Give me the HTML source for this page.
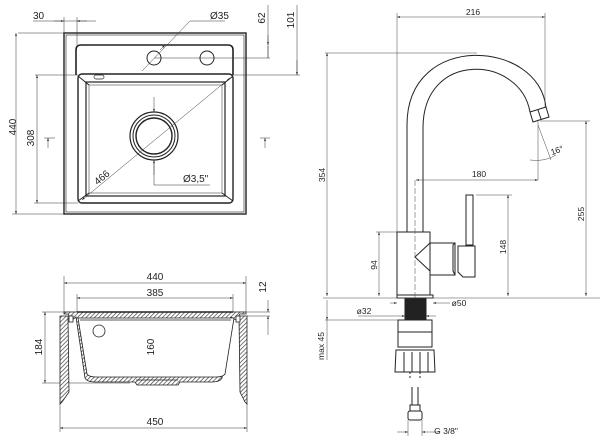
<!DOCTYPE html>
<html><head><meta charset="utf-8"><style>
html,body{margin:0;padding:0;background:#fff;}
svg{display:block;font-family:"Liberation Sans",sans-serif;}
</style></head><body>
<svg width="600" height="447" viewBox="0 0 600 447" xmlns="http://www.w3.org/2000/svg">
<defs>
<pattern id="h" width="3" height="3" patternUnits="userSpaceOnUse" patternTransform="rotate(45)">
<rect width="3" height="3" fill="#fff"/><line x1="0" y1="0" x2="0" y2="3" stroke="#333" stroke-width="1.3"/></pattern>
<marker id="a" viewBox="0 0 10 10" refX="10" refY="5" markerWidth="6" markerHeight="6" orient="auto-start-reverse"><path d="M0,2 L10,5 L0,8z" fill="#222"/></marker>
</defs>
<g fill="none" stroke="#222" stroke-width="1">
<!-- TOP VIEW -->
<rect x="64" y="33" width="182" height="181" stroke-width="1.4"/>
<rect x="66" y="35" width="178" height="177" stroke-width="0.6"/>
<path d="M76,75 V50 Q76,45 81,45 H228 Q233,45 233,50 V75" stroke-width="1.6"/>
<rect x="78" y="74" width="155" height="129" rx="4" stroke-width="1.4"/>
<rect x="86" y="82" width="139" height="114" stroke-width="1.2"/>
<rect x="89" y="85" width="133" height="108" stroke-width="0.5"/>
<line x1="78" y1="76" x2="89" y2="85"/><line x1="233" y1="76" x2="222" y2="85"/>
<line x1="78" y1="201" x2="89" y2="193"/><line x1="233" y1="201" x2="222" y2="193"/>
<circle cx="154" cy="58" r="7"/><circle cx="207" cy="58" r="7"/>
<circle cx="154" cy="136" r="24" stroke-width="1.2"/><circle cx="154" cy="136" r="21"/><circle cx="154" cy="136" r="18" stroke-width="1.4"/>
<rect x="94" y="75" width="10" height="4" rx="2" stroke-width="0.7"/>
</g>
<g fill="none" stroke="#333" stroke-width="0.5">
<line x1="33" y1="21" x2="96" y2="21"/><line x1="64" y1="17" x2="64" y2="33"/><line x1="77" y1="17" x2="77" y2="45"/>
<line x1="54" y1="21" x2="64" y2="21" marker-end="url(#a)"/><line x1="87" y1="21" x2="77" y2="21" marker-end="url(#a)"/>
<line x1="190" y1="21" x2="225" y2="21"/><line x1="190" y1="21" x2="142" y2="71"/>
<line x1="160" y1="50" x2="165" y2="45" marker-end="url(#a)"/>
<line x1="18" y1="33" x2="64" y2="33"/><line x1="16" y1="33" x2="16" y2="214" marker-start="url(#a)" marker-end="url(#a)"/><line x1="12" y1="214" x2="64" y2="214"/>
<line x1="35" y1="75" x2="78" y2="75"/><line x1="37" y1="75" x2="37" y2="203" marker-start="url(#a)" marker-end="url(#a)"/><line x1="34" y1="203" x2="78" y2="203"/>
<line x1="154" y1="97" x2="154" y2="112" marker-end="url(#a)"/><line x1="154" y1="175" x2="154" y2="160" marker-end="url(#a)"/>
<line x1="154" y1="160" x2="154" y2="185"/><line x1="154" y1="185" x2="210" y2="185"/>
<line x1="82" y1="200" x2="230" y2="78" marker-start="url(#a)" marker-end="url(#a)"/>
<line x1="154" y1="58" x2="270" y2="58"/><line x1="233" y1="75" x2="300" y2="75"/>
<line x1="268" y1="5" x2="268" y2="58" /><line x1="268" y1="35" x2="268" y2="45" marker-end="url(#a)"/><line x1="268" y1="58" x2="268" y2="46"/>
<line x1="297" y1="5" x2="297" y2="75"/><line x1="297" y1="60" x2="297" y2="75" marker-end="url(#a)"/>
<line x1="44" y1="138" x2="55" y2="138"/><line x1="48" y1="138" x2="48" y2="148" marker-start="url(#a)"/>
<line x1="260" y1="138" x2="270" y2="138"/><line x1="265" y1="138" x2="265" y2="148" marker-start="url(#a)"/>
</g>
<g font-size="10" fill="#222">
<text x="33" y="19">30</text><text x="210" y="19">Ø35</text>
<text x="183" y="182">Ø3,5"</text>
<text transform="translate(16,127) rotate(-90)" text-anchor="middle">440</text>
<text transform="translate(34,138) rotate(-90)" text-anchor="middle">308</text>
<text transform="translate(265,18) rotate(-90)" text-anchor="middle">62</text>
<text transform="translate(294,20) rotate(-90)" text-anchor="middle">101</text>
<text transform="translate(104,180) rotate(-40)" text-anchor="middle">466</text>
</g>
<!-- SECTION VIEW -->
<g fill="none" stroke="#333" stroke-width="0.5">
<line x1="64" y1="276" x2="64" y2="312"/><line x1="246" y1="276" x2="246" y2="312"/>
<line x1="64" y1="283" x2="246" y2="283" marker-start="url(#a)" marker-end="url(#a)"/>
<line x1="77" y1="294" x2="77" y2="312"/><line x1="233" y1="294" x2="233" y2="312"/>
<line x1="77" y1="298" x2="233" y2="298" marker-start="url(#a)" marker-end="url(#a)"/>
<line x1="42" y1="312" x2="270" y2="312"/><line x1="42" y1="383" x2="130" y2="383"/>
<line x1="45" y1="312" x2="45" y2="383" marker-start="url(#a)" marker-end="url(#a)"/>
<line x1="157" y1="315" x2="157" y2="380" marker-start="url(#a)" marker-end="url(#a)"/>
<line x1="246" y1="316" x2="270" y2="316"/>
<line x1="268" y1="300" x2="268" y2="312" marker-end="url(#a)"/><line x1="268" y1="335" x2="268" y2="316" marker-end="url(#a)"/>
<line x1="60" y1="404" x2="60" y2="432"/><line x1="247" y1="404" x2="247" y2="432"/>
<line x1="60" y1="428" x2="247" y2="428" marker-start="url(#a)" marker-end="url(#a)"/>
</g>
<g stroke="#222" stroke-width="0.8">
<path d="M64,312 H246 V314 H240 L236,320 L231,317 L222,378 Q220,382 212,382 H180 L178,385 H137 L135,382 H95 Q87,382 85,378 L76,317 L72,320 L68,314 H64z" fill="url(#h)"/>
<path d="M78,318 L87,374 Q89,377 96,377 H216 Q223,377 225,374 L234,318z" fill="#fff"/>
<line x1="77" y1="312" x2="233" y2="312" stroke-width="1.6"/>
<line x1="80" y1="320" x2="231" y2="320"/>
<line x1="136" y1="380" x2="178" y2="380"/>
<path d="M60,316 L68,316 L69,392 L62,402 L60,404z" fill="url(#h)"/>
<path d="M239,316 L247,316 L247,404 L245,402 L240,392z" fill="url(#h)"/>
<rect x="69" y="316" width="4" height="6" fill="#fff"/><rect x="236" y="316" width="4" height="6" fill="#fff"/>
<circle cx="99" cy="331" r="6" fill="#fff"/>
</g>
<g font-size="10" fill="#222" text-anchor="middle">
<text x="155" y="280">440</text><text x="155" y="296">385</text><text x="155" y="425">450</text>
<text transform="translate(42,347) rotate(-90)">184</text>
<text transform="translate(154,347) rotate(-90)">160</text>
<text transform="translate(266,287) rotate(-90)">12</text>
</g>
<!-- TAP -->
<g fill="none" stroke="#222" stroke-width="1">
<path d="M407,232 V125 C407,30 540,40 546,108"/>
<path d="M423,232 V128 C423,50 520,55 530,112"/>
<path d="M530,112 L546,107 L549,117 L533,122z" fill="#fff"/>
<line x1="538" y1="110" x2="541" y2="119"/>
<rect x="397" y="232" width="33" height="63"/>
<path d="M430,243 L415,257 L430,271"/>
<path d="M430,243 H455 V275 H430"/>
<path d="M455,243 L453,245 V271 L455,275"/>
<path d="M458,246 H475 V277 H463 L458,272z"/>
<rect x="466" y="195" width="7" height="50"/>
<rect x="397" y="295" width="36" height="3"/>
<rect x="405" y="298" width="21" height="22" fill="#222"/>
<rect x="398" y="320" width="34" height="12"/>
<rect x="398" y="332" width="34" height="15"/>
<path d="M396,350 H434 L435,372 H395z"/>
<line x1="404" y1="352" x2="404" y2="372"/><line x1="412" y1="352" x2="412" y2="372"/><line x1="420" y1="352" x2="420" y2="372"/><line x1="428" y1="352" x2="428" y2="372"/>
<line x1="410" y1="372" x2="410" y2="380" stroke-dasharray="2,2"/><line x1="420" y1="372" x2="420" y2="380" stroke-dasharray="2,2"/>
<line x1="412" y1="387" x2="412" y2="405"/><line x1="418" y1="387" x2="418" y2="405"/>
<rect x="410" y="405" width="10" height="6"/><rect x="408" y="411" width="14" height="9" rx="2"/>
</g>
<g fill="none" stroke="#444" stroke-width="0.5">
<line x1="397" y1="13" x2="397" y2="232"/><line x1="545" y1="13" x2="545" y2="107"/>
<line x1="397" y1="17" x2="545" y2="17" marker-start="url(#a)" marker-end="url(#a)"/>
<line x1="325" y1="53" x2="477" y2="53"/><line x1="323" y1="298" x2="600" y2="298"/>
<line x1="327" y1="53" x2="327" y2="296" marker-start="url(#a)" marker-end="url(#a)"/>
<line x1="540" y1="121" x2="590" y2="121"/>
<line x1="586" y1="121" x2="586" y2="296" marker-start="url(#a)" marker-end="url(#a)"/>
<line x1="416" y1="180" x2="538" y2="180" marker-start="url(#a)" marker-end="url(#a)"/>
<line x1="538" y1="121" x2="538" y2="180"/><line x1="415" y1="180" x2="415" y2="300" stroke-dasharray="6,2"/>
<line x1="538" y1="125" x2="551" y2="160"/>
<path d="M530,160 Q545,162 556,155"/>
<line x1="476" y1="195" x2="512" y2="195"/>
<line x1="508" y1="195" x2="508" y2="296" marker-start="url(#a)" marker-end="url(#a)"/>
<line x1="376" y1="232" x2="397" y2="232"/>
<line x1="379" y1="232" x2="379" y2="296" marker-start="url(#a)" marker-end="url(#a)"/>
<line x1="390" y1="303" x2="397" y2="303" marker-end="url(#a)"/><line x1="450" y1="303" x2="433" y2="303" marker-end="url(#a)"/>
<line x1="358" y1="316" x2="405" y2="316" marker-end="url(#a)"/><line x1="436" y1="316" x2="426" y2="316" marker-end="url(#a)"/>
<line x1="325" y1="320" x2="398" y2="320"/>
<line x1="327" y1="300" x2="327" y2="320" marker-end="url(#a)"/><line x1="327" y1="320" x2="327" y2="360"/>
<line x1="397" y1="432" x2="408" y2="432" marker-end="url(#a)"/><line x1="440" y1="432" x2="422" y2="432" marker-end="url(#a)"/>
<line x1="408" y1="420" x2="408" y2="436"/><line x1="422" y1="420" x2="422" y2="436"/>
</g>
<g font-size="8.5" fill="#222" text-anchor="middle">
<text x="473" y="15">216</text><text x="479" y="177">180</text>
<text transform="translate(325,175) rotate(-90)">354</text>
<text transform="translate(584,214) rotate(-90)">255</text>
<text transform="translate(506,247) rotate(-90)">148</text>
<text transform="translate(377,265) rotate(-90)">94</text>
<text transform="translate(324,346) rotate(-90)">max 45</text>
<text x="459" y="306">ø50</text><text x="364" y="314">ø32</text>
<text x="446" y="434">G 3/8"</text>
<text transform="translate(558,153) rotate(-20)">16°</text>
</g>
</svg>
</body></html>
